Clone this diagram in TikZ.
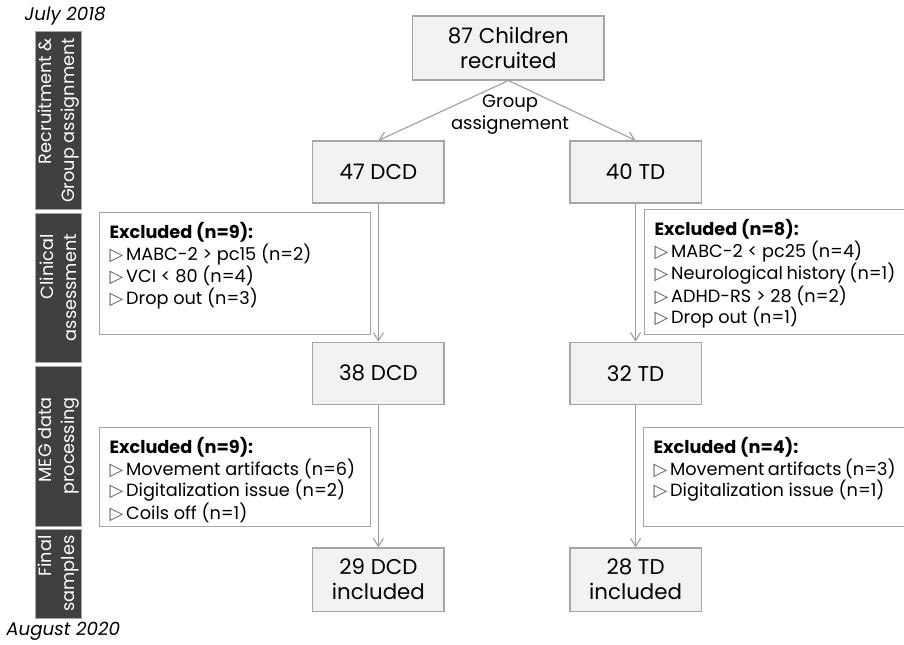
\documentclass[tikz,border=0pt]{standalone}
\usepackage{fontspec}
\setmainfont{Poppins}
\newfontfamily\symfont{DejaVu Sans}
\usetikzlibrary{arrows.meta}

\definecolor{boxfill}{HTML}{F2F2F2}
\definecolor{boxline}{HTML}{A6A6A6}
\definecolor{barfill}{HTML}{404040}
\definecolor{arrowline}{HTML}{A0A0A0}

\newcommand{\tri}{{\symfont\color{black!65}▷}\,}
\newcommand{\exclpar}[3]{\parbox[t][#2][t]{#1}{#3}}

\tikzset{
  mainbox/.style={draw=boxline, fill=boxfill, line width=0.8pt, align=center,
    minimum width=3.28cm, minimum height=1.55cm, font=\fontsize{15.2}{17.7}\selectfont},
  exclbox/.style={draw=boxline, fill=white, line width=0.8pt, anchor=north west,
    inner sep=0.25cm, font=\fontsize{12.6}{13.6}\selectfont},
  phasebar/.style={rotate=90, fill=barfill, draw=boxline, line width=0.5pt, text=white,
    align=right, inner sep=0pt, minimum height=1.13cm, font=\fontsize{12.6}{16.3}\selectfont},
  datelabel/.style={font=\fontsize{13}{15}\selectfont\itshape},
  flow/.style={draw=arrowline, line width=0.8pt, -{Straight Barb[length=0.2cm, width=0.25cm]}}
}

\begin{document}
\begin{tikzpicture}
  \useasboundingbox (0,0) rectangle (22.6,-16.1);

  % Time line and phases
  \node[datelabel] (start) at (1.63,-0.4) {July 2018};
  \node[datelabel] (finish) at (1.58,-15.78) {August 2020};
  \node[phasebar, minimum width=4.43cm] (recruitbar) at (1.46,-3.01) {Recruitment \&\\Group assignment};
  \node[phasebar, minimum width=3.73cm] (clinicbar) at (1.46,-7.19) {Clinical\\assessment};
  \node[phasebar, minimum width=4.0cm] (megbar) at (1.46,-11.15) {MEG data\\processing};
  \node[phasebar, minimum width=2.23cm] (finalbar) at (1.46,-14.34) {Final\\samples};

  % Groups
  \node[mainbox, minimum width=4.78cm, minimum height=1.6cm] (recruited) at (12.71,-1.2) {87 Children\\recruited};
  \node[mainbox] (dcdA) at (9.46,-4.3) {47 DCD};
  \node[mainbox] (tdA) at (15.89,-4.3) {40 TD};
  \node[mainbox] (dcdB) at (9.46,-9.33) {38 DCD};
  \node[mainbox] (tdB) at (15.89,-9.33) {32 TD};
  \node[mainbox, minimum height=1.58cm] (dcdC) at (9.46,-14.49) {29 DCD\\included};
  \node[mainbox, minimum height=1.58cm] (tdC) at (15.89,-14.49) {28 TD\\included};

  \node[font=\fontsize{12.8}{16}\selectfont, align=center] (assign) at (12.75,-2.87) {Group\\assignement};

  % Exclusions
  \node[exclbox] (exclDcdA) at (2.475,-5.3) {\exclpar{6.28cm}{2.55cm}{%
    \textbf{Excluded (n=9):}\\
    \tri MABC-2 > pc15 (n=2)\\
    \tri VCI < 80 (n=4)\\
    \tri Drop out (n=3)}};
  \node[exclbox] (exclTdA) at (16.1,-5.225) {\exclpar{6.02cm}{2.63cm}{%
    \textbf{Excluded (n=8):}\\
    \tri MABC-2 < pc25 (n=4)\\
    \tri Neurological history (n=1)\\
    \tri ADHD-RS > 28 (n=2)\\
    \tri Drop out (n=1)}};
  \node[exclbox] (exclDcdB) at (2.475,-10.675) {\exclpar{6.28cm}{1.98cm}{%
    \textbf{Excluded (n=9):}\\
    \tri Movement artifacts (n=6)\\
    \tri Digitalization issue (n=2)\\
    \tri Coils off (n=1)}};
  \node[exclbox] (exclTdB) at (16.075,-10.675) {\exclpar{6.05cm}{1.98cm}{%
    \textbf{Excluded (n=4):}\\
    \tri Movement artifacts (n=3)\\
    \tri Digitalization issue (n=1)}};

  % Flow
  \draw[flow] (recruited.south) -- (dcdA.north);
  \draw[flow] (recruited.south) -- (tdA.north);
  \draw[flow] (dcdA) -- (dcdB);
  \draw[flow] (tdA) -- (tdB);
  \draw[flow] (dcdB) -- (dcdC);
  \draw[flow] (tdB) -- (tdC);
\end{tikzpicture}
\end{document}
